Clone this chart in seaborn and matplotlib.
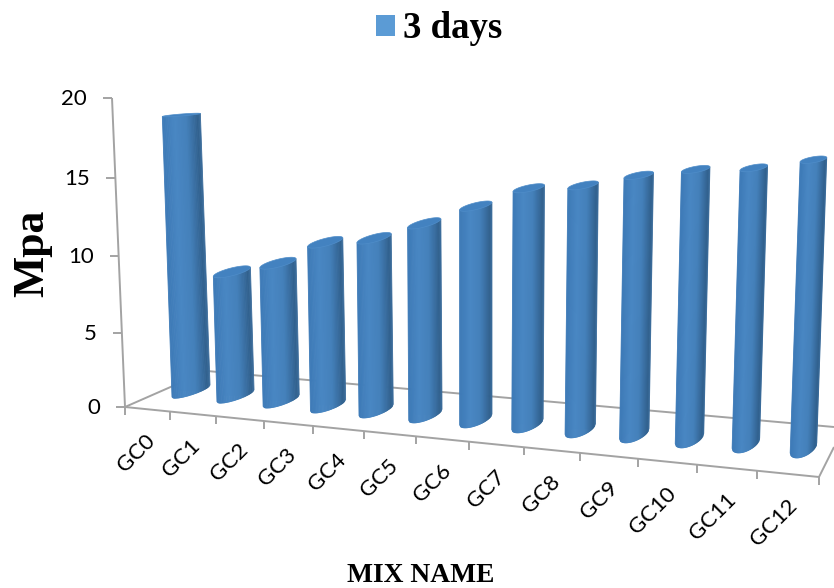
import numpy as np
import pandas as pd
import seaborn as sns
import matplotlib.pyplot as plt
from matplotlib.collections import PolyCollection
from matplotlib.colors import LinearSegmentedColormap
from matplotlib.patches import Polygon
from matplotlib.transforms import Affine2D

# Data
mixes = ['GC0', 'GC1', 'GC2', 'GC3', 'GC4', 'GC5', 'GC6', 'GC7', 'GC8', 'GC9', 'GC10', 'GC11', 'GC12']
strength = [18.4, 8.1, 8.8, 10.25, 10.6, 11.6, 12.7, 13.8, 14.0, 14.6, 14.95, 15.05, 15.5]
y_ticks = [0, 5, 10, 15, 20]
series_name = '3 days'

sns.set_theme(style='white')
plt.rcParams['font.family'] = ['Lato', 'DejaVu Sans']
plt.rcParams['text.color'] = 'black'

W, H = 834, 588
fig = plt.figure(figsize=(W / 100, H / 100), dpi=100)
ax = fig.add_axes([0, 0, 1, 1])

df = pd.DataFrame({'mix': mixes, 'mpa': strength})
sns.barplot(data=df, x='mix', y='mpa', color='#5b9bd5', saturation=1, width=0.8, label=series_name, ax=ax)
ax.axis('off')

# everything below is placed in image pixels, y pointing down
img = Affine2D().scale(1, -1).translate(0, H)
shade = LinearSegmentedColormap.from_list('cyl', [
    (0.00, '#3d7ab7'), (0.30, '#4987c3'), (0.62, '#4480ba'),
    (0.92, '#31618e'), (1.00, '#3d6f9e')])
GREY = '#a3a3a3'

# fake 3D layout of the Excel cylinder chart
def center_x(u):
    return 191 + 43.9 * u + 0.595 * u ** 2

def center_y(u):
    return 391 + 4.75 * u

def scale(u):
    return 15 + 0.3 * u

def lean(u):
    return -0.035 + 0.0058 * u

# strips of equal width across the cylinder
theta = np.arccos(np.linspace(1, -1, 31))
for i, p in enumerate(ax.patches):
    if p.get_height() == 0:
        continue
    u = p.get_x() + p.get_width() / 2
    val = p.get_height()
    w = 38 - 0.95 * u
    cx, cy = center_x(u), center_y(u)
    s = scale(u)
    tilt = lean(u) * s

    # put the seaborn bar inside the cylinder body
    k = 0.6 * w / p.get_width()
    m = Affine2D.from_values(k, 0, tilt, -s, cx - k * u, cy)
    p.set_transform(m + img)
    p.set_edgecolor('none')

    top_x = cx + tilt * val
    top_y = cy - s * val
    a = w / 2
    tk = np.interp(top_y, [115, 160, 222, 280], [-1.5, -2.2, -4.3, -4.5])
    tb = np.interp(top_y, [115, 160, 250], [1.0, 3.0, 4.0])
    bk = -6 + u / 12
    bb = 4 + 0.38 * u

    xb = cx + a * np.cos(theta)
    yb = cy + bk * np.cos(theta) + bb * np.sin(theta)
    xt = top_x + a * np.cos(theta)
    yt = top_y + tk * np.cos(theta) + tb * np.sin(theta)

    quads = []
    cols = []
    for j in range(len(theta) - 1):
        quads.append([(xb[j], yb[j]), (xb[j + 1], yb[j + 1]), (xt[j + 1], yt[j + 1]), (xt[j], yt[j])])
        # theta runs from the right edge to the left edge
        cols.append(shade(1 - (j + 0.5) / (len(theta) - 1)))
    ax.add_collection(PolyCollection(quads, facecolors=cols, edgecolors=cols, linewidths=0.6,
                                     transform=img, zorder=3))
    t = np.linspace(0, 2 * np.pi, 60)
    cap = np.column_stack([top_x + a * np.cos(t), top_y + tk * np.cos(t) + tb * np.sin(t)])
    ax.add_patch(Polygon(cap, closed=True, facecolor='#4382c0', edgecolor='#4f8dc9', lw=0.5,
                         transform=img, zorder=4))

# axes frame
def line(xs, ys, z=1):
    ax.plot(xs, ys, color=GREY, lw=1.4, transform=img, zorder=z, clip_on=False, solid_capstyle='butt')

y_px = [407, 333, 256, 178, 98]
y_x = [125 - 13 * (407 - v) / 309 for v in y_px]
line(y_x, y_px)
for v, yy, xx in zip(y_ticks, y_px, y_x):
    line([xx - 9, xx], [yy, yy])
    ax.text(xx - 25, yy + 1, str(v), ha='right', va='center', fontsize=16, color='black', transform=img)

def front_x(k):
    return 125 + 44.3 * k + 0.699 * k ** 2

def front_y(x):
    return 407 + 70 * (x - 125) / 694

line([125, 819], [407, 477])
line([125, 207], [407, 371], z=0.5)
line([207, 834], [371, 427], z=0.5)
line([819, 834], [477, 447])
for k in range(14):
    xx = front_x(k)
    line([xx, xx], [front_y(xx), front_y(xx) + 8])
    if k > 0:
        ax.text(xx - 18 - 0.55 * k, front_y(xx) + 26, mixes[k - 1], rotation=45, rotation_mode='anchor',
                ha='right', va='center', fontsize=16, color='black', transform=img)

serif = ['Liberation Serif', 'DejaVu Serif']
ax.text(32, 253, 'Mpa', rotation=90, ha='center', va='center', fontsize=31.5, fontweight='bold',
        family=serif, color='black', transform=img)
ax.text(421, 575, 'MIX NAME', ha='center', va='center', fontsize=19.8, fontweight='bold',
        family=serif, color='black', transform=img)

h, l = ax.get_legend_handles_labels()
ax.legend(h, l, loc='center', bbox_to_anchor=(439 / W, 1 - 29 / H), bbox_transform=fig.transFigure,
          frameon=False, handlelength=0.52, handleheight=0.52, handletextpad=0.2, labelcolor='black',
          prop={'family': serif, 'weight': 'bold', 'size': 26.5})

fig.savefig('out.png', dpi=100)
